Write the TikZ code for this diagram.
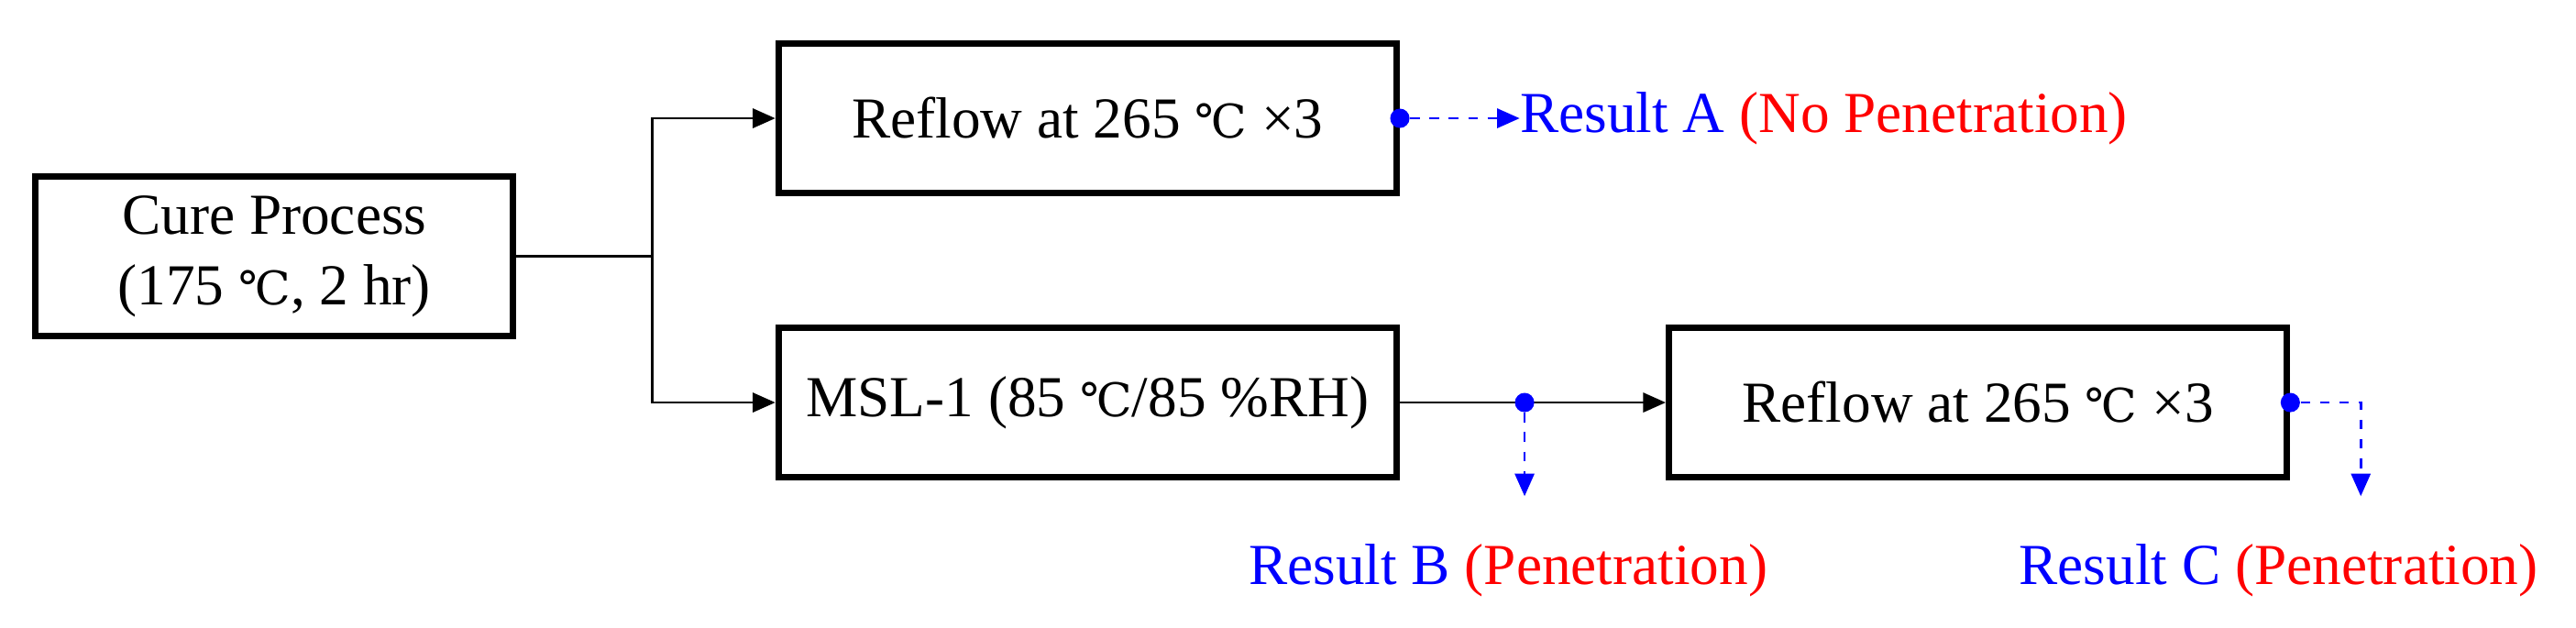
\documentclass[tikz,border=0pt]{standalone}
\usepackage{fontspec}
\setmainfont{Liberation Serif}
\newfontfamily\degfont{DejaVu Serif}[Scale=0.8]
\newcommand{\dgc}{{\degfont\char"2103}}
\usetikzlibrary{arrows.meta}
\tikzset{
  box/.style={draw,line width=2pt,minimum height=1.63cm,minimum width=6.74cm,font=\fontsize{18}{22}\selectfont,align=center},
  flow/.style={line width=0.8pt,-{Triangle[length=7pt,width=6pt]}},
  res/.style={blue,line width=0.8pt,dashed,-{Triangle[length=7pt,width=6pt]}},
  dot/.style={circle,fill=blue,inner sep=0pt,minimum size=6pt},
  lbl/.style={font=\fontsize{18}{22}\selectfont,inner sep=0pt}
}
\begin{document}
\begin{tikzpicture}[x=0.01792cm,y=-0.01792cm]
\useasboundingbox (0,0) rectangle (1568,381.7);

% boxes
\node[box,minimum width=5.21cm,minimum height=1.74cm] (cure) at (167,156) {Cure Process\\(175 \dgc, 2 hr)};
\node[box] (reflowA) at (662,72) {Reflow at 265 \dgc\ ×3};
\node[box] (msl) at (662,245) {MSL-1 (85 \dgc/85 \%RH)};
\node[box] (reflowC) at (1204,245) {Reflow at 265 \dgc\ ×3};

% branch
\coordinate (split) at (397,156);
\draw[line width=0.8pt] (cure.east) -- (split);
\draw[flow] (split) |- (reflowA.west);
\draw[flow] (split) |- (msl.west);
\draw[flow] (msl.east) -- (reflowC.west);

% results
\node[dot] (dA) at (reflowA.east) {};
\node[dot] (dB) at (928,245) {};
\node[dot] (dC) at (reflowC.east) {};
\node[lbl,anchor=west] (resA) at (925,72) {\textcolor{blue}{Result A} \textcolor{red}{(No Penetration)}};
\node[lbl] (resB) at (918,347) {\textcolor{blue}{Result B} \textcolor{red}{(Penetration)}};
\node[lbl] (resC) at (1387,347) {\textcolor{blue}{Result C} \textcolor{red}{(Penetration)}};
\coordinate (eB) at (928,302);
\coordinate (cC) at (1437,245);
\coordinate (eC) at (1437,302);
\draw[res] (dA) -- (resA.west);
\draw[res] (dB) -- (eB);
\draw[res] (dC) -- (cC) -- (eC);
\end{tikzpicture}
\end{document}
